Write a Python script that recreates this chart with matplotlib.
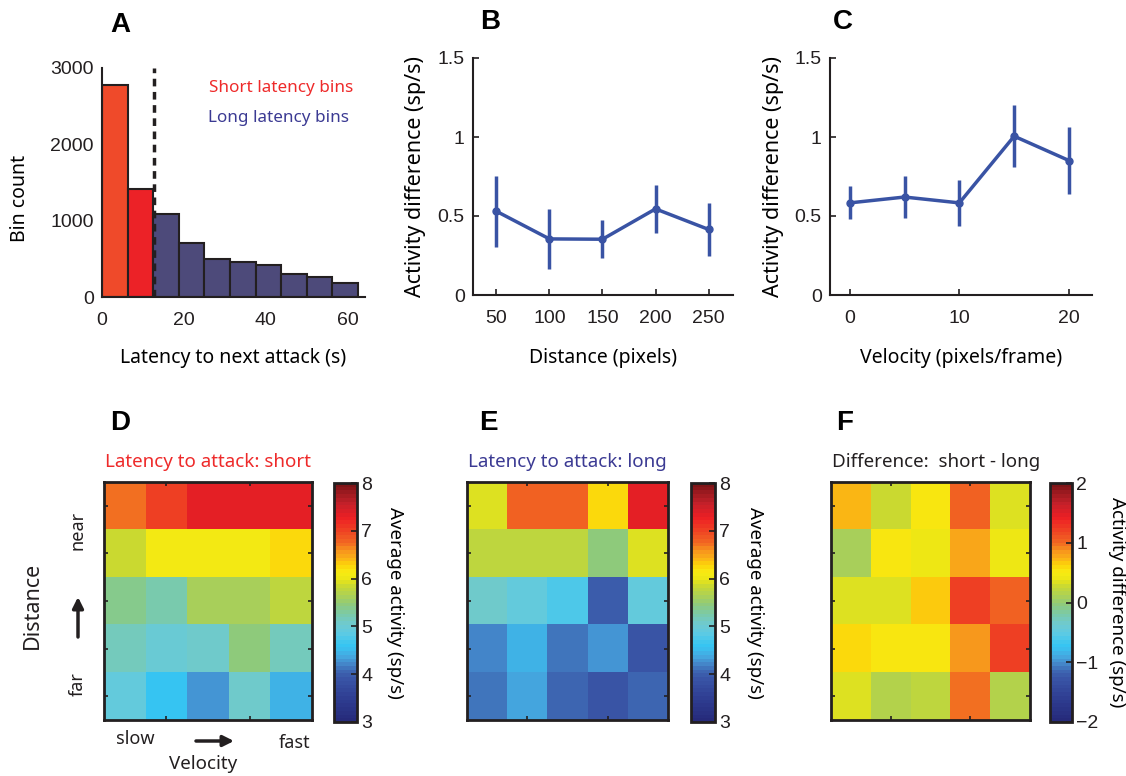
import numpy as np
import matplotlib
matplotlib.use("Agg")
import matplotlib.pyplot as plt
from matplotlib.colors import LinearSegmentedColormap

# ---------------- data ----------------
hist_edges = [0, 6.25, 12.5, 18.75, 25, 31.25, 37.5, 43.75, 50, 56.25, 62.5]
hist_counts = [2780, 1420, 1090, 705, 495, 464, 425, 307, 258, 180]
hist_threshold = 12.7

dist_x = [50, 100, 150, 200, 250]
dist_y = [0.53, 0.355, 0.353, 0.545, 0.415]
dist_err = [0.225, 0.19, 0.12, 0.15, 0.17]

vel_x = [0, 5, 10, 15, 20]
vel_y = [0.583, 0.62, 0.583, 1.005, 0.851]
vel_err = [0.105, 0.135, 0.148, 0.197, 0.212]

# rows: near (top) -> far (bottom); columns: slow -> fast
act_short = [
    [6.68, 7.05, 7.30, 7.30, 7.30],
    [5.88, 6.12, 6.08, 6.12, 6.25],
    [5.38, 5.25, 5.62, 5.62, 5.80],
    [5.15, 5.00, 5.10, 5.45, 5.15],
    [4.90, 4.60, 4.25, 5.07, 4.47],
]
act_long = [
    [5.95, 6.78, 6.78, 6.25, 7.30],
    [5.80, 5.80, 5.80, 5.45, 5.92],
    [5.05, 4.90, 4.75, 3.95, 4.90],
    [4.18, 4.48, 4.15, 4.25, 3.90],
    [4.10, 4.35, 4.02, 3.92, 4.05],
]
act_diff = [
    [0.74, 0.28, 0.52, 1.00, 0.32],
    [0.10, 0.52, 0.38, 0.76, 0.39],
    [0.32, 0.33, 0.66, 1.24, 1.04],
    [0.60, 0.52, 0.50, 0.82, 1.24],
    [0.34, 0.14, 0.20, 0.94, 0.17],
]

# ---------------- style ----------------
W, H = 1126, 776
fig = plt.figure(figsize=(W / 100, H / 100), dpi=100)
TICKFONT = "Liberation Sans"
LABFONT = "Noto Sans"
DARK = "#231F20"
plt.rcParams["font.family"] = [TICKFONT, "DejaVu Sans"]
plt.rcParams["text.color"] = DARK
plt.rcParams["axes.edgecolor"] = DARK
plt.rcParams["xtick.color"] = DARK
plt.rcParams["ytick.color"] = DARK


def axpix(l, r, t, b):
    return fig.add_axes([l / W, 1 - b / H, (r - l) / W, (b - t) / H])


def to_fig(x, y):
    return x / W, 1 - y / H


# colormap anchors (value on a 3..8 scale, colour)
cmap_vals = [3.0, 3.5, 3.9, 4.05, 4.2, 4.35, 4.5, 4.6, 4.85, 5.05, 5.25, 5.45, 5.65,
             5.85, 6.0, 6.15, 6.3, 6.45, 6.6, 6.75, 7.0, 7.3, 7.6, 8.0]
cmap_colors = ["#262A7A", "#2F3F93", "#3A56A7", "#3E68B3", "#4488CB", "#45A6DF",
               "#3BBDEE", "#36C6F3", "#5FCAE2", "#6FCACE", "#7BCAA8", "#8DCA7E",
               "#ADD154", "#C9D932", "#EDE715", "#F8EB12", "#FDD20A", "#FAAE18",
               "#F7941D", "#F26A22", "#EF4623", "#ED1F24", "#C4202A", "#7D1517"]
cmap = LinearSegmentedColormap.from_list(
    "pjet", [((v - 3.0) / 5.0, c) for v, c in zip(cmap_vals, cmap_colors)], N=64)

LINEBLUE = "#3953A4"

# ---------------- panel A ----------------
axA = axpix(102, 365, 68, 297)
centers = [(hist_edges[i] + hist_edges[i + 1]) / 2 for i in range(len(hist_counts))]
widths = [hist_edges[i + 1] - hist_edges[i] for i in range(len(hist_counts))]
bar_colors = ["#EF4A2A", "#EC2227"] + ["#4D4A7A"] * (len(hist_counts) - 2)
axA.bar(centers, hist_counts, width=widths, color=bar_colors, edgecolor=DARK, linewidth=1.5)
axA.axvline(hist_threshold, color=DARK, linestyle=(0, (2.2, 1.6)), linewidth=2.5)
axA.set_xlim(0, 64.2)
axA.set_ylim(0, 3000)
axA.set_xticks([0, 20, 40, 60])
axA.set_yticks([0, 1000, 2000, 3000])
axA.text(0.68, 0.913, "Short latency bins", transform=axA.transAxes, ha="center", va="center",
         color="#EE2A2A", fontsize=12.3, family=LABFONT)
axA.text(0.67, 0.78, "Long latency bins", transform=axA.transAxes, ha="center", va="center",
         color="#3B3A93", fontsize=12.3, family=LABFONT)


def line_axes(ax):
    for s in ["top", "right"]:
        ax.spines[s].set_visible(False)
    for s in ["left", "bottom"]:
        ax.spines[s].set_linewidth(1.5)
    ax.tick_params(direction="in", length=4, width=1.2, labelsize=14)
    ax.tick_params(axis="x", pad=11)
    ax.tick_params(axis="y", pad=6)


line_axes(axA)
axA.tick_params(length=0)
axA.set_xlabel("Latency to next attack (s)", fontsize=14, family=LABFONT)
axA.xaxis.label.set_va("center")
axA.xaxis.set_label_coords(0.5, (297 - 358) / 229)
axA.set_ylabel("Bin count", fontsize=14, family=LABFONT)
axA.yaxis.label.set_va("center")
axA.yaxis.set_label_coords((20 - 102) / 263, (297 - 198) / 229)

# ---------------- panel B ----------------
axB = axpix(473, 733, 58, 295)
axB.errorbar(dist_x, dist_y, yerr=dist_err, color=LINEBLUE, linewidth=2.5, elinewidth=2.5,
             marker="o", markersize=5, capsize=0)
axB.set_xlim(28, 273)
axB.set_ylim(0, 1.5)
axB.set_xticks(dist_x)
axB.set_yticks([0, 0.5, 1, 1.5])
axB.set_yticklabels(["0", "0.5", "1", "1.5"])
line_axes(axB)
axB.set_xlabel("Distance (pixels)", fontsize=14, family=LABFONT)
axB.xaxis.label.set_va("center")
axB.xaxis.set_label_coords(0.5, (295 - 358) / 237)
axB.set_ylabel("Activity difference (sp/s)", fontsize=15.5, family=LABFONT)
axB.yaxis.label.set_va("center")
axB.yaxis.set_label_coords((415 - 473) / 260, 0.5)

# ---------------- panel C ----------------
axC = axpix(830, 1092, 58, 295)
axC.errorbar(vel_x, vel_y, yerr=vel_err, color=LINEBLUE, linewidth=2.5, elinewidth=2.5,
             marker="o", markersize=5, capsize=0)
axC.set_xlim(-1.8, 22.1)
axC.set_ylim(0, 1.5)
axC.set_xticks([0, 10, 20])
axC.set_yticks([0, 0.5, 1, 1.5])
axC.set_yticklabels(["0", "0.5", "1", "1.5"])
line_axes(axC)
axC.set_xlabel("Velocity (pixels/frame)", fontsize=14, family=LABFONT)
axC.xaxis.label.set_va("center")
axC.xaxis.set_label_coords(0.5, (295 - 358) / 237)
axC.set_ylabel("Activity difference (sp/s)", fontsize=15.5, family=LABFONT)
axC.yaxis.label.set_va("center")
axC.yaxis.set_label_coords((773 - 830) / 262, 0.5)


# ---------------- heatmaps ----------------
def heat(ax, cax, data, vmin, vmax, cticks, clabel, clabel_x):
    im = ax.imshow(np.array(data), cmap=cmap, vmin=vmin, vmax=vmax, aspect="auto",
                   interpolation="nearest")
    ax.set_xticks([1, 3])
    ax.set_yticks(range(5))
    ax.set_xticklabels([])
    ax.set_yticklabels([])
    ax.tick_params(direction="in", length=3, width=1.2, top=True, right=True)
    for s in ax.spines.values():
        s.set_linewidth(2)
    cb = fig.colorbar(im, cax=cax, ticks=cticks)
    cb.outline.set_linewidth(2)
    cb.ax.tick_params(direction="in", length=4, width=1.2, labelsize=14, pad=3)
    cb.ax.set_yticklabels([str(t).replace("-", "\u2212") for t in cticks])
    cb.set_label(clabel, rotation=270, fontsize=13.5, family=LABFONT)
    cb.ax.yaxis.label.set_va("center")
    cb.ax.yaxis.set_label_coords(clabel_x, 0.5)
    return im


axD = axpix(104, 312, 482, 720)
caxD = axpix(334, 357, 483, 722)
heat(axD, caxD, act_short, 3, 8, [3, 4, 5, 6, 7, 8], "Average activity (sp/s)", (395 - 334) / 23)
axD.text(0.5, (720 - 462) / 238, "Latency to attack: short", transform=axD.transAxes,
         ha="center", va="center", color="#EE2A2A", fontsize=13.5, family=LABFONT)

axE = axpix(467, 668, 482, 720)
caxE = axpix(691, 715, 483, 722)
heat(axE, caxE, act_long, 3, 8, [3, 4, 5, 6, 7, 8], "Average activity (sp/s)", (755 - 691) / 24)
axE.text(0.5, (720 - 462) / 238, "Latency to attack: long", transform=axE.transAxes,
         ha="center", va="center", color="#3B3A93", fontsize=13.5, family=LABFONT)

axF = axpix(831, 1030, 482, 720)
caxF = axpix(1050, 1072, 483, 722)
heat(axF, caxF, act_diff, -2, 2, [-2, -1, 0, 1, 2], "Activity difference (sp/s)", (1117 - 1050) / 22)
axF.text(0.53, (720 - 462) / 238, "Difference:  short - long", transform=axF.transAxes,
         ha="center", va="center", color=DARK, fontsize=13.5, family=LABFONT)

# D axis annotations
fig.text(*to_fig(135, 739), "slow", ha="center", va="center", fontsize=13, family=LABFONT)
fig.text(*to_fig(295, 743), "fast", ha="center", va="center", fontsize=13, family=LABFONT)
fig.text(*to_fig(203, 764), "Velocity", ha="center", va="center", fontsize=13.5, family=LABFONT)
fig.text(*to_fig(78, 530), "near", ha="center", va="center", rotation=90, fontsize=13, family=LABFONT)
fig.text(*to_fig(78, 684), "far", ha="center", va="center", rotation=90, fontsize=13, family=LABFONT)
fig.text(*to_fig(32, 605), "Distance", ha="center", va="center", rotation=90, fontsize=15.5, family=LABFONT)
arrow_kw = dict(arrowstyle="-|>", lw=2.5, color=DARK, mutation_scale=16, shrinkA=0, shrinkB=0)
fig.add_artist(matplotlib.patches.FancyArrowPatch(to_fig(196, 741), to_fig(234, 741),
                                                  transform=fig.transFigure, **arrow_kw))
fig.add_artist(matplotlib.patches.FancyArrowPatch(to_fig(78, 637), to_fig(78, 597),
                                                  transform=fig.transFigure, **arrow_kw))

# panel letters
for letter, (x, y) in {"A": (120, 25), "B": (490, 22), "C": (843, 22),
                       "D": (120, 423), "E": (488, 423), "F": (845, 423)}.items():
    fig.text(*to_fig(x, y), letter, ha="center", va="center", fontsize=20,
             fontweight="bold", color="black")

fig.savefig("out.png", dpi=100)
